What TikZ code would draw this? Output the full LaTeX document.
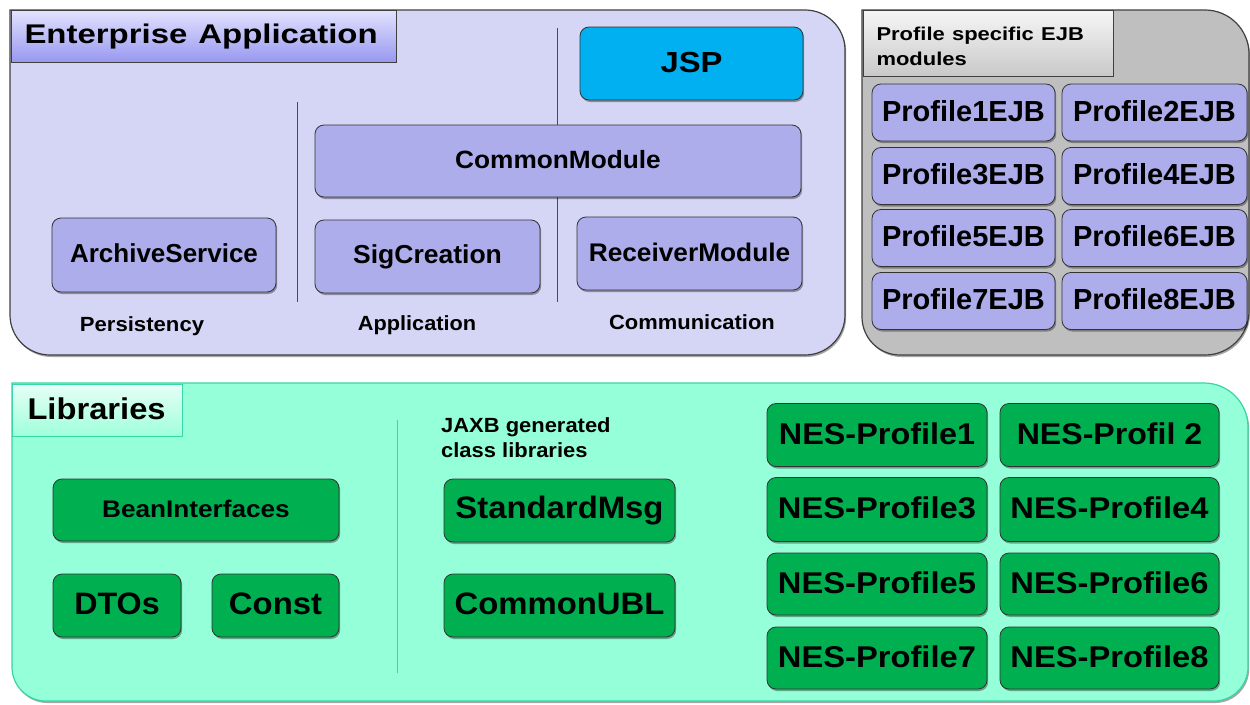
\documentclass[tikz,border=0pt]{standalone}
\usepackage{fontspec}
\setmainfont{Liberation Sans}
\usetikzlibrary{shadows}

\definecolor{eaback}{HTML}{D5D5F5}
\definecolor{eamod}{HTML}{ADADEB}
\definecolor{eahdtop}{HTML}{E2E2FF}
\definecolor{eahdbot}{HTML}{9797F0}
\definecolor{jspblue}{HTML}{00B0F0}
\definecolor{grayback}{HTML}{BFBFBF}
\definecolor{grhdtop}{HTML}{F6F6F6}
\definecolor{grhdbot}{HTML}{C8C8C8}
\definecolor{libback}{HTML}{94FFD8}
\definecolor{libline}{HTML}{36D6A6}
\definecolor{libhdtop}{HTML}{E6FFF7}
\definecolor{libhdbot}{HTML}{9EFFDA}
\definecolor{libgreen}{HTML}{00B050}

% horizontally stretched label, with a fixed-height strut for even vertical centring
\newcommand\hx[2]{\rule[-.15em]{0pt}{.9em}\scalebox{#1}[1]{#2}}
% the same without the strut, for multi-line labels
\newcommand\hxn[2]{\scalebox{#1}[1]{#2}}

\begin{document}
\begin{tikzpicture}[x=1pt,y=-1pt,
  fs/.style={font=\fontsize{#1}{#1}\selectfont\bfseries},
  shad/.style={drop shadow={shadow xshift=1.2pt,shadow yshift=-2pt,opacity=0.35,fill=black}},
  module/.style={draw=black!80, line width=0.8pt, rounded corners=9pt, inner sep=0pt, shad},
  ea/.style={module, fill=eamod},
  jsp/.style={module, fill=jspblue},
  lib/.style={module, fill=libgreen},
  grp/.style={line width=1.2pt, shad},
  sep/.style={draw=black!70, line width=0.8pt},
  libsep/.style={draw=libline, line width=0.8pt},
  caption/.style={inner sep=0pt, anchor=base},
  header/.style={anchor=north west, line width=1pt, inner ysep=0pt, align=left},
]
\useasboundingbox (0,0) rectangle (1250,704);

% ---------- Enterprise Application ----------
\path[grp, draw=black!75, fill=eaback] (10,10) [rounded corners=40pt] -- (845,10) -- (845,355) -- (10,355) [sharp corners] -- cycle;
\draw[sep] (297,102) -- (297,302);
\draw[sep] (557,28) -- (557,302);

\node[header, draw=black!75, top color=eahdtop, bottom color=eahdbot, minimum height=52pt,
  text width=359pt, inner xsep=13pt, fs=27] (eahead) at (11,10)
  {\hx{1.22}{Enterprise Application}};

\node[jsp, fs=29, minimum width=223pt, minimum height=73pt] (jsp) at (691.5,63.5) {\hx{1.13}{JSP}};
\node[ea, fs=25, minimum width=486pt, minimum height=72pt] (common) at (558,161) {\hx{1.05}{CommonModule}};
\node[ea, fs=26, minimum width=224pt, minimum height=74pt] (archive) at (164,255) {\hx{1}{ArchiveService}};
\node[ea, fs=26, minimum width=225pt, minimum height=73pt] (sig) at (427.5,256.5) {\hx{1.02}{SigCreation}};
\node[ea, fs=25.5, minimum width=225pt, minimum height=73pt] (receiver) at (689.5,253.5) {\hx{1.03}{ReceiverModule}};

\node[caption, fs=20.5] (persist) at (142,331) {\hxn{1.08}{Persistency}};
\node[caption, fs=20.5] (appl) at (417,330) {\hxn{1.06}{Application}};
\node[caption, fs=20.5] (comm) at (692,329) {\hxn{1.07}{Communication}};

% ---------- Profile specific EJB modules ----------
\path[grp, draw=black!75, fill=grayback] (862,10) [rounded corners=44pt] -- (1249,10) -- (1249,355) [rounded corners=38pt] -- (862,355) [sharp corners] -- cycle;
\node[header, draw=black!75, top color=grhdtop, bottom color=grhdbot, minimum height=66pt,
  text width=224pt, inner xsep=13pt, font=\fontsize{18.6}{25.7}\selectfont\bfseries] (pshead) at (863,10)
  {\rule{0pt}{19pt}\hxn{1.18}{Profile specific EJB}\\\hxn{1.18}{modules}};

\foreach \n/\x/\w/\y in {1/963.5/183/112.5, 2/1154.5/185/112.5,
                         3/963.5/183/176,   4/1154.5/185/176,
                         5/963.5/183/238,   6/1154.5/185/238,
                         7/963.5/183/301,   8/1154.5/185/301}
  \node[ea, fs=29, minimum width=\w pt, minimum height=57pt] (pejb\n) at (\x,\y) {\hx{1}{Profile\n{}EJB}};

% ---------- Libraries ----------
\path[grp, draw=libline, fill=libback] (12,383) [rounded corners=44pt] -- (1248,383) [rounded corners=34pt] -- (1248,701) -- (12,701) [sharp corners] -- cycle;
\draw[libsep] (397,420) -- (397,673);

\node[header, draw=libline, top color=libhdtop, bottom color=libhdbot, minimum height=52pt,
  text width=140pt, inner xsep=15pt, fs=30] (libhead) at (12,384)
  {\hx{1.09}{Libraries}};

\node[lib, fs=24, minimum width=286pt, minimum height=62pt] (bean) at (196,510) {\hx{1.09}{BeanInterfaces}};
\node[lib, fs=31, minimum width=128pt, minimum height=63pt] (dtos) at (117,605.5) {\hx{1.04}{DTOs}};
\node[lib, fs=31, minimum width=127pt, minimum height=63pt] (const) at (275.5,605.5) {\hx{1.06}{Const}};

\node[anchor=north west, inner sep=0pt, align=left, font=\fontsize{20.5}{25}\selectfont\bfseries] (jaxb) at (441,417)
  {\hxn{1.07}{JAXB generated}\\\hxn{1.07}{class libraries}};
\node[lib, fs=31, minimum width=231pt, minimum height=63pt] (stdmsg) at (559.5,510.5) {\hx{1.06}{StandardMsg}};
\node[lib, fs=31, minimum width=231pt, minimum height=63pt] (ubl) at (559.5,605.5) {\hx{1.06}{CommonUBL}};

\node[lib, fs=30, minimum width=220pt, minimum height=63pt] (nes1) at (877,435) {\hx{1.08}{NES-Profile1}};
\node[lib, fs=30, minimum width=219pt, minimum height=63pt] (nes2) at (1109.5,435) {\hx{1.07}{NES-Profil 2}};
\node[lib, fs=30, minimum width=220pt, minimum height=64pt] (nes3) at (877,509.5) {\hx{1.09}{NES-Profile3}};
\node[lib, fs=30, minimum width=219pt, minimum height=64pt] (nes4) at (1109.5,509.5) {\hx{1.09}{NES-Profile4}};
\node[lib, fs=30, minimum width=220pt, minimum height=62pt] (nes5) at (877,584) {\hx{1.09}{NES-Profile5}};
\node[lib, fs=30, minimum width=219pt, minimum height=62pt] (nes6) at (1109.5,584) {\hx{1.09}{NES-Profile6}};
\node[lib, fs=30, minimum width=220pt, minimum height=62pt] (nes7) at (877,658) {\hx{1.09}{NES-Profile7}};
\node[lib, fs=30, minimum width=219pt, minimum height=62pt] (nes8) at (1109.5,658) {\hx{1.09}{NES-Profile8}};
\end{tikzpicture}
\end{document}
